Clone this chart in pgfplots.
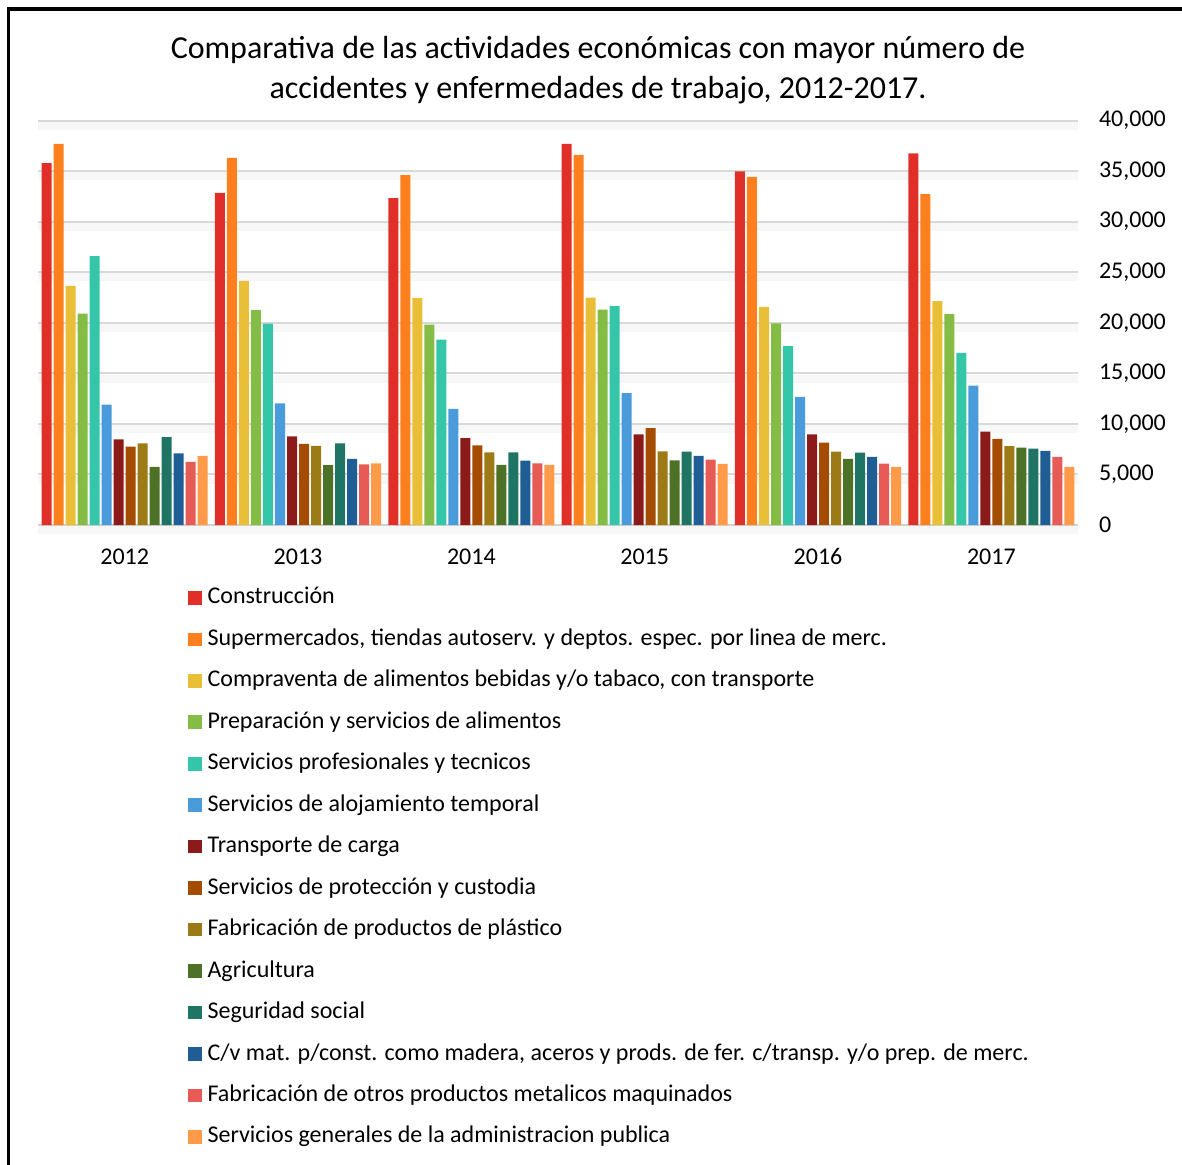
\documentclass[border=0pt]{standalone}
\usepackage{fontspec}
\setmainfont{Carlito}
\usepackage{pgfplots}
\usepackage{pgfplotstable}
\pgfplotsset{compat=1.18}

% accidentes por actividad, columnas = actividades, filas = años 2012..2017
\pgfplotstableread{
x s1 s2 s3 s4 s5 s6 s7 s8 s9 s10 s11 s12 s13 s14
0 35780 37690 23650 20910 26580 11900 8480 7750 8080 5740 8680 7090 6240 6830
1 32850 36310 24140 21240 19920 12040 8770 8020 7820 5910 8080 6530 6000 6100
2 32320 34600 22460 19820 18340 11480 8580 7880 7190 5940 7190 6370 6100 5940
3 37690 36610 22490 21310 21640 13030 8970 9570 7290 6400 7260 6830 6470 6040
4 34960 34430 21570 19950 17680 12670 8970 8150 7260 6530 7160 6730 6070 5740
5 36740 32720 22130 20880 17020 13790 9240 8510 7790 7650 7550 7320 6730 5740
}\datos

\definecolor{c1}{HTML}{E02F28}
\definecolor{c2}{HTML}{FD7F1D}
\definecolor{c3}{HTML}{E9BF38}
\definecolor{c4}{HTML}{84BC45}
\definecolor{c5}{HTML}{34C6A9}
\definecolor{c6}{HTML}{4A9BDB}
\definecolor{c7}{HTML}{8B1A18}
\definecolor{c8}{HTML}{A54C03}
\definecolor{c9}{HTML}{9C7A15}
\definecolor{c10}{HTML}{4E7128}
\definecolor{c11}{HTML}{1E7563}
\definecolor{c12}{HTML}{1E5E94}
\definecolor{c13}{HTML}{E85A55}
\definecolor{c14}{HTML}{FF9A48}

\begin{document}
\begin{tikzpicture}
\path[use as bounding box] (0,0) rectangle (591pt,-582.5pt);
\draw[line width=1.8pt] (4.2pt,-590pt) -- (4.2pt,-4.4pt) -- (595pt,-4.4pt);

\node[anchor=base, font=\fontsize{16}{19.5}\selectfont] at (299pt,-29.2pt)
  {Comparativa de las actividades económicas con mayor número de};
\node[anchor=base, font=\fontsize{16}{19.5}\selectfont] at (299pt,-49.5pt)
  {accidentes y enfermedades de trabajo, 2012-2017.};

\begin{axis}[
    at={(19pt,-262.5pt)}, anchor=south west,
    scale only axis,
    width=520pt, height=202.25pt,
    xmin=-0.5, xmax=5.5,
    ymin=0, ymax=40000,
    ybar=1pt, bar width=5pt,
    axis x line*=bottom, axis y line*=right,
    y axis line style={draw=none},
    x axis line style={draw=gray!35, line width=1pt},
    xtick={0,...,5},
    xticklabels={2012,2013,2014,2015,2016,2017},
    ytick={0,5000,...,40000},
    tick style={draw=none},
    ymajorgrids,
    grid style={draw=black!15, line width=1pt,
        preaction={draw=black!3, line width=4pt, transform canvas={yshift=-2.6pt}}},
    scaled y ticks=false,
    /pgf/number format/.cd, 1000 sep={,}, assume math mode=true,
    /pgfplots/.cd,
    ticklabel style={font=\fontsize{12}{14}\selectfont},
    yticklabel style={anchor=west, xshift=7pt},
    xticklabel style={yshift=-4pt},
    every axis plot/.append style={draw=none},
    legend image code/.code={
        \fill[#1] (0pt,-3.1pt) rectangle (6.8pt,3.7pt);
        \path (9.8pt,0pt);
    },
    legend cell align=left,
    legend style={
        at={(0.1442,-0.1557)}, anchor=north west,
        draw=none, fill=none, inner sep=0pt, outer sep=0pt,
        font=\fontsize{12}{14}\selectfont,
        row sep=10.23pt, column sep=0pt,
        nodes={inner sep=0pt, text height=8pt, text depth=2.5pt},
    },
]
\addplot[fill=c1]  table[x=x, y=s1]  {\datos};
\addplot[fill=c2]  table[x=x, y=s2]  {\datos};
\addplot[fill=c3]  table[x=x, y=s3]  {\datos};
\addplot[fill=c4]  table[x=x, y=s4]  {\datos};
\addplot[fill=c5]  table[x=x, y=s5]  {\datos};
\addplot[fill=c6]  table[x=x, y=s6]  {\datos};
\addplot[fill=c7]  table[x=x, y=s7]  {\datos};
\addplot[fill=c8]  table[x=x, y=s8]  {\datos};
\addplot[fill=c9]  table[x=x, y=s9]  {\datos};
\addplot[fill=c10] table[x=x, y=s10] {\datos};
\addplot[fill=c11] table[x=x, y=s11] {\datos};
\addplot[fill=c12] table[x=x, y=s12] {\datos};
\addplot[fill=c13] table[x=x, y=s13] {\datos};
\addplot[fill=c14] table[x=x, y=s14] {\datos};
\legend{
    Construcción,
    {Supermercados, tiendas autoserv. y deptos. espec. por linea de merc.},
    {Compraventa de alimentos bebidas y/o tabaco, con transporte},
    Preparación y servicios de alimentos,
    Servicios profesionales y tecnicos,
    Servicios de alojamiento temporal,
    Transporte de carga,
    Servicios de protección y custodia,
    Fabricación de productos de plástico,
    Agricultura,
    Seguridad social,
    {C/v mat. p/const. como madera, aceros y prods. de fer. c/transp. y/o prep. de merc.},
    Fabricación de otros productos metalicos maquinados,
    Servicios generales de la administracion publica
}
\end{axis}
\end{tikzpicture}
\end{document}
